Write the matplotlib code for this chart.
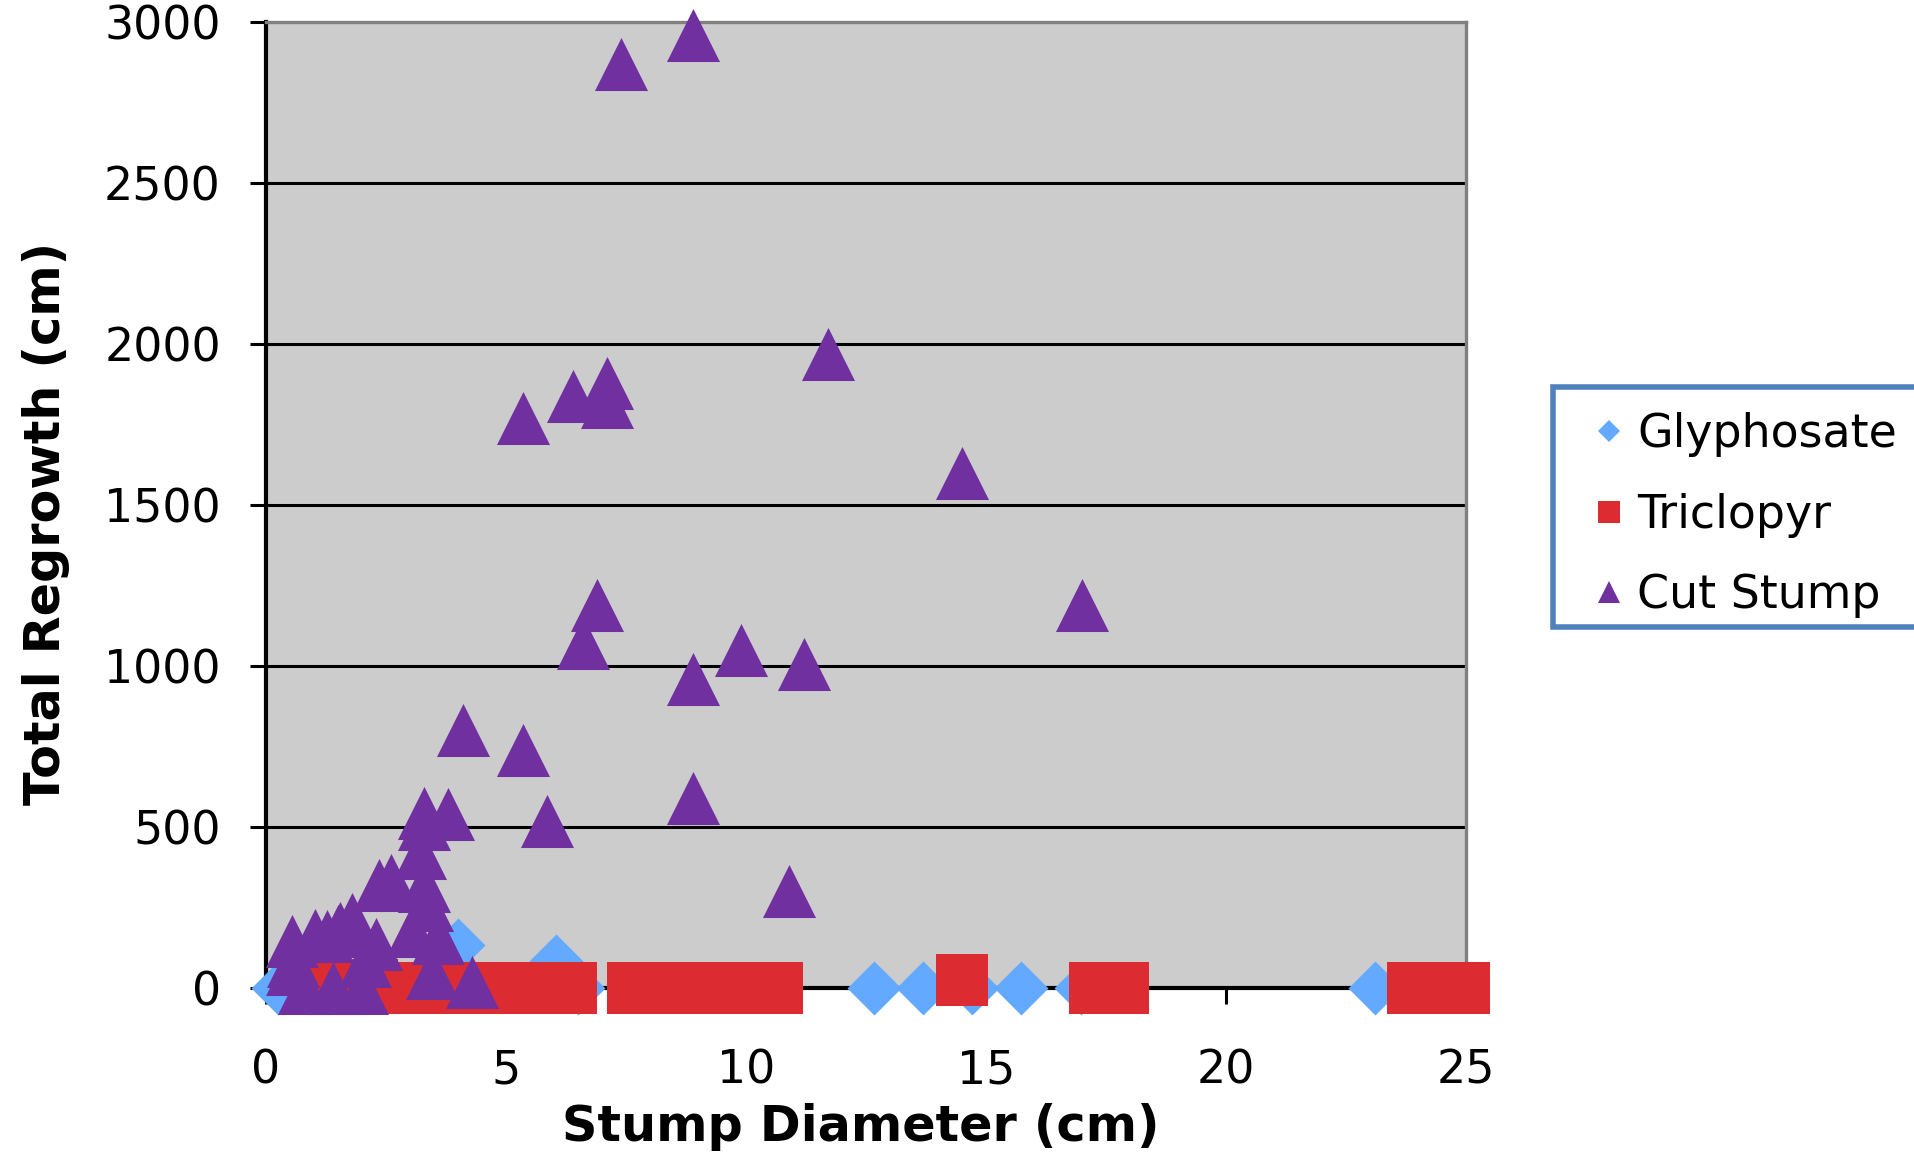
import matplotlib
matplotlib.use("Agg")
import matplotlib.pyplot as plt
from matplotlib.lines import Line2D
from matplotlib.patches import Rectangle

plt.rcParams['font.family'] = ['DejaVu Sans']

# ---- data -------------------------------------------------------------
glyphosate_x = [0.25, 4.0, 6.05, 6.5, 12.67, 13.69, 14.7, 15.72, 16.98, 23.1]
glyphosate_y = [0, 135, 85, 0, 0, 0, 0, 0, 0, 0]

triclopyr_x = [1.2, 1.9, 2.2, 2.6, 3.2, 3.8, 4.4, 5.0, 5.5, 5.9, 6.36,
               7.64, 8.2, 8.8, 9.4, 10.0, 10.65, 14.5, 17.28, 17.85, 23.9, 24.95]
triclopyr_y = [0, 0, 10, 0, 0, 0, 0, 0, 0, 0, 0,
               0, 0, 0, 0, 0, 0, 25, 0, 0, 0, 0]

cut_stump_x = [8.9, 7.4, 11.7, 7.1, 7.1, 6.4, 5.35, 14.5, 6.9, 17.0, 6.6,
               9.9, 11.2, 8.9, 4.1, 5.35, 8.9, 3.8, 3.3, 5.85, 3.3, 3.2,
               2.6, 2.35, 3.3, 10.9, 3.35, 1.8, 1.55, 1.03, 1.28, 3.58,
               0.54, 2.3, 1.5, 3.04, 0.56, 2.07, 0.54, 3.45, 4.3, 0.79,
               1.4, 2.0]
cut_stump_y = [2960, 2870, 1970, 1880, 1820, 1840, 1770, 1600, 1190, 1190, 1070,
               1050, 1005, 960, 800, 740, 590, 540, 545, 520, 510, 419,
               335, 320, 316, 300, 259, 215, 185, 165, 160, 155,
               145, 137, 176, 176, 85, 85, 60, 47, 18, 0,
               0, 0]

series_names = ["Glyphosate", "Triclopyr", "Cut Stump"]
x_ticks = [0, 5, 10, 15, 20, 25]
y_ticks = [0, 500, 1000, 1500, 2000, 2500, 3000]

# ---- styling ----------------------------------------------------------
C_GLY = "#63A9FF"
C_TRI = "#DC2C31"
C_CUT = "#7030A0"
W, H = 1915, 1152

fig = plt.figure(figsize=(W / 100, H / 100), dpi=100)
ax = fig.add_axes([266 / W, 1 - 988 / H, 1200 / W, 966 / H])
ax.set_facecolor("#CCCCCC")
ax.set_xlim(0, 25)
ax.set_ylim(0, 3000)

for v in y_ticks[1:-1]:
    ax.axhline(v, color="black", lw=2.2, zorder=1)

for side in ("top", "right"):
    ax.spines[side].set_color("#808080")
    ax.spines[side].set_linewidth(2.4)
for side in ("left", "bottom"):
    ax.spines[side].set_color("black")
    ax.spines[side].set_linewidth(3.0)

ax.set_xticks(x_ticks)
ax.set_yticks(y_ticks)
ax.tick_params(axis="both", direction="out", length=11.5, width=2.2,
               color="black", labelsize=33)
ax.tick_params(axis="y", pad=21)
ax.tick_params(axis="x", pad=32)

ax.scatter(glyphosate_x, glyphosate_y, marker="D", s=756, color=C_GLY,
           linewidths=0, zorder=5, clip_on=False)
ax.scatter(triclopyr_x, triclopyr_y, marker="s", s=1450, color=C_TRI,
           linewidths=0, zorder=6, clip_on=False)
ax.scatter(cut_stump_x, cut_stump_y, marker="^", s=1460, color=C_CUT,
           linewidths=0, zorder=7, clip_on=False)

# axis titles
fig.text(861 / W, 1 - 1127 / H, "Stump Diameter (cm)", ha="center",
         va="center", fontsize=35.5, fontweight="bold")
fig.text(46 / W, 1 - 523 / H, "Total Regrowth (cm)", ha="center",
         va="center", rotation=90, fontsize=35.5, fontweight="bold")

# legend box
fig.patches.append(Rectangle((1553 / W, 1 - 627 / H), 400 / W, 240 / H,
                             transform=fig.transFigure, facecolor="white",
                             edgecolor="#4F81BD", linewidth=4, zorder=1))
legend_items = [("D", C_GLY, 11.0), ("s", C_TRI, 15.5), ("^", C_CUT, 15.5)]
baselines = [447, 528, 608]
for (mk, col, ms), name, base in zip(legend_items, series_names, baselines):
    fig.add_artist(Line2D([1609 / W], [1 - (base - 16) / H], marker=mk,
                          color=col, markersize=ms, markeredgewidth=0,
                          linestyle="none", transform=fig.transFigure))
    fig.text(1637 / W, 1 - base / H, name, ha="left", va="baseline",
             fontsize=33)

fig.savefig("out.png", dpi=100)
